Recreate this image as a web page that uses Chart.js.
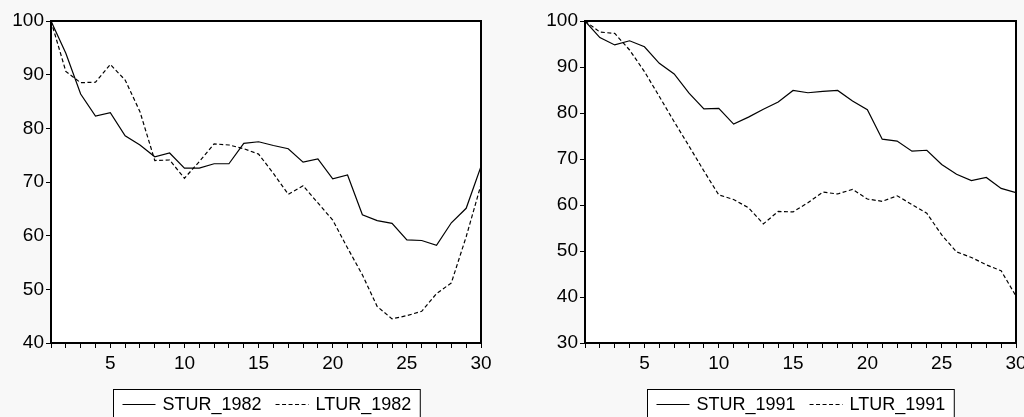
<!DOCTYPE html>
<html>
<head>
<meta charset="utf-8">
<script src="https://cdn.jsdelivr.net/npm/chart.js@4/dist/chart.umd.min.js"></script>
<style>
  body { margin: 0; background: #f8f8f8; }
  .wrap { position: absolute; top: 0; width: 512px; height: 417px; }
  #left { left: 0; }
  #right { left: 512px; }
</style>
</head>
<body>
<div class="wrap" id="left"><canvas id="chart1982" width="512" height="417"></canvas></div>
<div class="wrap" id="right"><canvas id="chart1991" width="512" height="417"></canvas></div>
<script>
const periods = [1, 2, 3, 4, 5, 6, 7, 8, 9, 10, 11, 12, 13, 14, 15, 16, 17, 18, 19, 20, 21, 22, 23, 24, 25, 26, 27, 28, 29, 30];

const stur1982 = [100, 94, 86.4, 82.3, 82.9, 78.6, 76.9, 74.7, 75.4, 72.6, 72.6, 73.4, 73.4, 77.2, 77.5,
  76.8, 76.2, 73.7, 74.3, 70.6, 71.3, 63.9, 62.8, 62.3, 59.2, 59.1, 58.2, 62.4, 65.1, 72.9];
const ltur1982 = [100, 90.6, 88.5, 88.6, 91.9, 89, 83.1, 74, 74.1, 70.7, 73.8, 77.1, 76.9, 76.2, 75.2,
  71.6, 67.7, 69.3, 66.1, 62.9, 57.7, 52.7, 46.8, 44.5, 45.1, 45.9, 49.2, 51.2, 59.8, 69.5];

const stur1991 = [100, 96.4, 94.8, 95.7, 94.4, 90.8, 88.5, 84.3, 80.9, 81, 77.6, 79.1, 80.8, 82.4, 84.9,
  84.4, 84.7, 84.9, 82.6, 80.7, 74.3, 73.9, 71.7, 71.9, 68.8, 66.7, 65.3, 66, 63.6, 62.7];
const ltur1991 = [100, 97.6, 97.3, 93.7, 89, 83.6, 78.1, 72.8, 67.4, 62.2, 61.2, 59.4, 55.9, 58.6, 58.5,
  60.5, 62.8, 62.4, 63.4, 61.3, 60.8, 62, 60.1, 58.2, 53.5, 49.8, 48.6, 47, 45.7, 40.2];

const yTicks1982 = [40, 50, 60, 70, 80, 90, 100];
const yTicks1991 = [30, 40, 50, 60, 70, 80, 90, 100];
const xLabelEvery = 5;

const FONT = '"Liberation Sans", Arial, sans-serif';

const toPoints = (vals) => vals.map((v, i) => ({ x: periods[i], y: v }));

// white plot area + full black frame
const frame = {
  id: "frame",
  beforeDraw(chart) {
    const { ctx, chartArea: a } = chart;
    ctx.save();
    ctx.fillStyle = "#ffffff";
    ctx.fillRect(a.left, a.top, a.right - a.left, a.bottom - a.top);
    ctx.restore();
  },
  afterDraw(chart) {
    const { ctx, chartArea: a } = chart;
    ctx.save();
    ctx.strokeStyle = "#000";
    ctx.lineWidth = 2;
    ctx.strokeRect(a.left, a.top, a.right - a.left, a.bottom - a.top);
    ctx.restore();
  },
};

// boxed legend under the plot, like the original
const boxLegend = {
  id: "boxLegend",
  afterDraw(chart) {
    const { ctx, chartArea: a } = chart;
    const sets = chart.data.datasets;
    ctx.save();
    ctx.font = "18px " + FONT;
    const pad = 9, sample = 33, gapIn = 7, gapOut = 14;
    let w = pad * 2;
    sets.forEach((d, i) => {
      w += sample + gapIn + ctx.measureText(d.label).width;
      if (i < sets.length - 1) w += gapOut;
    });
    const top = 389, h = 28;
    let x = Math.round((a.left + a.right) / 2 - w / 2) + 0.5;
    ctx.fillStyle = "#fff";
    ctx.fillRect(x, top + 0.5, w, h);
    ctx.strokeStyle = "#000";
    ctx.lineWidth = 1;
    ctx.strokeRect(x, top + 0.5, w, h);
    const cy = top + 15.5;
    x += pad;
    sets.forEach((d) => {
      ctx.beginPath();
      ctx.setLineDash(d.borderDash || []);
      ctx.moveTo(x, cy);
      ctx.lineTo(x + sample, cy);
      ctx.stroke();
      ctx.setLineDash([]);
      x += sample + gapIn;
      ctx.fillStyle = "#000";
      ctx.textBaseline = "middle";
      ctx.fillText(d.label, x, cy + 1);
      x += ctx.measureText(d.label).width + gapOut;
    });
    ctx.restore();
  },
};

function makeChart(id, solid, dashed, names, yTicks, yWidth, rightPad) {
  return new Chart(document.getElementById(id), {
    type: "line",
    data: {
      datasets: [
        { label: names[0], data: toPoints(solid), borderColor: "#000", borderWidth: 1.2, pointRadius: 0, tension: 0 },
        { label: names[1], data: toPoints(dashed), borderColor: "#000", borderWidth: 1.2, borderDash: [4, 2.5], pointRadius: 0, tension: 0 },
      ],
    },
    options: {
      responsive: false,
      animation: false,
      layout: { padding: { top: 21, right: rightPad, left: 0, bottom: 0 } },
      plugins: { legend: { display: false }, tooltip: { enabled: false } },
      scales: {
        x: {
          type: "linear",
          min: periods[0],
          max: periods[periods.length - 1],
          afterBuildTicks: (s) => { s.ticks = periods.map((p) => ({ value: p })); },
          ticks: {
            autoSkip: false,
            maxRotation: 0,
            padding: 4,
            color: "#000",
            font: { family: FONT, size: 19 },
            callback: (v) => (v % xLabelEvery === 0 ? v : ""),
          },
          grid: { drawOnChartArea: false, tickLength: 5, color: "#000", lineWidth: 1 },
          border: { color: "#000", width: 2 },
          afterFit: (s) => { s.height = 74; s.paddingLeft = 0; s.paddingRight = 0; },
        },
        y: {
          min: yTicks[0],
          max: yTicks[yTicks.length - 1],
          afterBuildTicks: (s) => { s.ticks = yTicks.map((v) => ({ value: v })); },
          ticks: { padding: 2, color: "#000", font: { family: FONT, size: 19 } },
          grid: { drawOnChartArea: false, tickLength: 5, color: "#000", lineWidth: 1 },
          border: { color: "#000", width: 2 },
          afterFit: (s) => { s.width = yWidth; s.paddingTop = 0; s.paddingBottom = 0; },
        },
      },
    },
    plugins: [frame, boxLegend],
  });
}

makeChart("chart1982", stur1982, ltur1982, ["STUR_1982", "LTUR_1982"], yTicks1982, 51, 31);
makeChart("chart1991", stur1991, ltur1991, ["STUR_1991", "LTUR_1991"], yTicks1991, 73, 8);
</script>
</body>
</html>
